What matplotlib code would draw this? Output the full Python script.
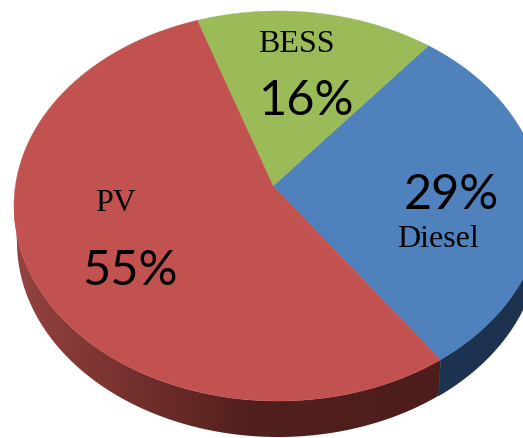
"""3D-style pie of generation share: PV, Diesel, BESS."""
import matplotlib
matplotlib.use('Agg')
import matplotlib.pyplot as plt
from matplotlib.colors import LinearSegmentedColormap
from matplotlib.patches import Polygon
import numpy as np

names = ['PV', 'Diesel', 'BESS']
percent_labels = ['55%', '29%', '16%']
slice_shares = [55.6, 29.8, 14.6]  # measured on the drawn rim, the labels are rounded differently
top_colors = ['#C2524F', '#4F81BD', '#9BBB59']

cx, cy, a, b = 278, 207, 264, 195
apex = (273, 187)
depth = 36
start_angle = -52  # PV/Diesel boundary, sweep goes counter-clockwise from Diesel


def rim(theta_deg, shift=0.0, shrink=0.0):
    t = np.radians(theta_deg)
    return np.column_stack([cx + (a - shrink) * np.cos(t), cy + shift - b * np.sin(t)])


def side_band(t0, t1):
    th = np.linspace(t0, t1, 200)
    return np.vstack([rim(th), rim(th[::-1], depth, 3)])


fig = plt.figure(figsize=(5.23, 4.39), dpi=100)
ax = fig.add_axes([0, 0, 1, 1])
ax.set_xlim(0, 523)
ax.set_ylim(439, 0)
ax.axis('off')

# slice boundaries, Diesel first then BESS then PV
order = [1, 2, 0]
bounds = start_angle + np.cumsum([0] + [slice_shares[i] * 3.6 for i in order])
spans = {i: (bounds[k], bounds[k + 1]) for k, i in enumerate(order)}

# red side wall with left to right gradient
red_side = LinearSegmentedColormap.from_list(
    'red_side', [(0, '#95433F'), (0.25, '#78322F'), (0.55, '#52201D'), (1, '#4C1D1B')])
grad = np.linspace(0, 1, 256).reshape(1, -1)
img = ax.imshow(grad, cmap=red_side, extent=(14, 440, 439, 180), aspect='auto', zorder=1)
red_poly = Polygon(side_band(180, 360 + start_angle), closed=True, transform=ax.transData,
                   fc='none', ec='none')
ax.add_patch(red_poly)
img.set_clip_path(red_poly)
ax.set_xlim(0, 523)
ax.set_ylim(439, 0)

# blue side wall
ax.fill(*side_band(360 + start_angle, 360).T, color='#1C324E', lw=0.5, zorder=1)

# top faces
for i in order:
    th = np.linspace(spans[i][0], spans[i][1], 300)
    pts = np.vstack([apex, rim(th)])
    ax.fill(pts[:, 0], pts[:, 1], color=top_colors[i], lw=0.3, zorder=2)

name_pos = [(116, 204), (438, 240), (296, 45)]
pct_pos = [(130, 271), (451, 195), (307, 101)]
for i in range(3):
    ax.text(*name_pos[i], names[i], family='Liberation Serif', fontsize=23, color='black',
            ha='center', va='center', zorder=3)
    ax.text(*pct_pos[i], percent_labels[i], family='Lato', fontsize=35, color='black',
            ha='center', va='center', zorder=3)

fig.savefig('out.png', dpi=100)
plt.close()
